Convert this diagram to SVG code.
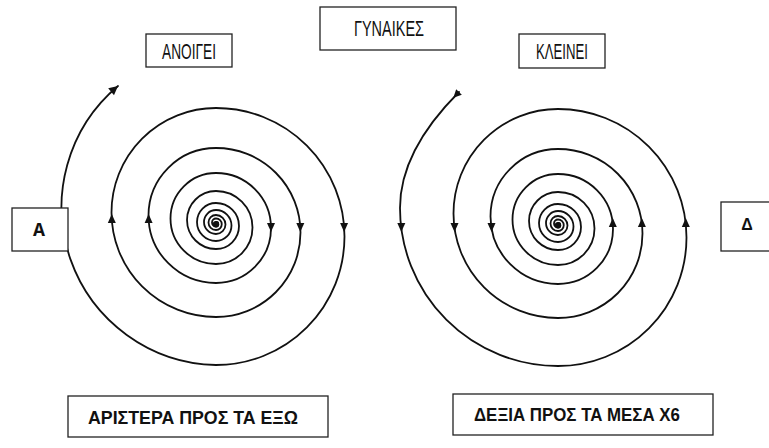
<svg xmlns="http://www.w3.org/2000/svg" xmlns:xlink="http://www.w3.org/1999/xlink" width="769" height="448" viewBox="0 0 769 448">
<style>
.sp{fill:none;stroke:#111;stroke-width:1.8;stroke-linecap:round}
.ah{fill:#111}
.box{fill:#fff;stroke:#222;stroke-width:1.3}
.t{font-family:"Liberation Sans","Noto Sans",Arial,sans-serif;fill:#111}
.tb{font-family:"Liberation Sans","Noto Sans",Arial,sans-serif;font-weight:bold;fill:#111}
</style>
<defs>
<path id="spiral" d="M216,222 A2.25,2.25 0 0 1 216,226.5 A4,4 0 0 1 216,218.5 A5.75,5.75 0 0 1 216,230 A7.5,7.5 0 0 1 216,215 A9.5,9.5 0 0 1 216,234 A12,12 0 0 1 216,210 A15.5,15.5 0 0 1 216,241 A19,19 0 0 1 216,203 A23,23 0 0 1 216,249 A29,29 0 0 1 216,191 A36.5,36.5 0 0 1 216,264 A45.5,45.5 0 0 1 216,173 A55,55 0 0 1 216,283 A67.5,67.5 0 0 1 216,148 A84.5,84.5 0 0 1 216,317 A104.5,104.5 0 0 1 216,108 A128.5,128.5 0 0 1 216,365"/>
<path id="tri" d="M0,0 L-9,-4 L-9,4 Z"/>
<marker id="endArrow" markerUnits="userSpaceOnUse" markerWidth="12" markerHeight="12" refX="9" refY="0" viewBox="-1 -6 12 12" orient="auto">
<path d="M0,-4.5 L9,0 L0,4.5 Z" fill="#111"/>
</marker>
<marker id="tailArrow" markerUnits="userSpaceOnUse" markerWidth="12" markerHeight="12" refX="0" refY="0" viewBox="-10 -6 12 12" orient="auto">
<path d="M0,-4 L0,4 L-8,0 Z" fill="#111"/>
</marker>
</defs>

<g id="connectors">
<g id="spiral-left">
<use xlink:href="#spiral" href="#spiral" class="sp"/>
<path class="sp" d="M216,365 A158,158 0 0 1 118,86" marker-end="url(#endArrow)"/>
<circle cx="216" cy="224.2" r="3.2" fill="#111"/>
<use xlink:href="#tri" href="#tri" class="ah" transform="translate(111.8,214) rotate(-90)"/>
<use xlink:href="#tri" href="#tri" class="ah" transform="translate(148.6,214) rotate(-90)"/>
<use xlink:href="#tri" href="#tri" class="ah" transform="translate(271,232) rotate(90)"/>
<use xlink:href="#tri" href="#tri" class="ah" transform="translate(300.3,232) rotate(90)"/>
<use xlink:href="#tri" href="#tri" class="ah" transform="translate(344.1,232) rotate(90)"/>
</g>
<g id="spiral-right" transform="translate(342,1)">
<use xlink:href="#spiral" href="#spiral" class="sp"/>
<path class="sp" d="M216,365 A158,158 0 0 1 58,207 C58,155 95,113 117,91" marker-end="url(#tailArrow)"/>
<circle cx="216" cy="224.2" r="3.2" fill="#111"/>
<use xlink:href="#tri" href="#tri" class="ah" transform="translate(59.3,231) rotate(90)"/>
<use xlink:href="#tri" href="#tri" class="ah" transform="translate(112.5,231) rotate(90)"/>
<use xlink:href="#tri" href="#tri" class="ah" transform="translate(149.5,231) rotate(90)"/>
<use xlink:href="#tri" href="#tri" class="ah" transform="translate(270.8,217) rotate(-90)"/>
<use xlink:href="#tri" href="#tri" class="ah" transform="translate(299.9,217) rotate(-90)"/>
<use xlink:href="#tri" href="#tri" class="ah" transform="translate(343.8,217) rotate(-90)"/>
</g>
</g>

<g id="node-anoigei">
<rect class="box" x="146" y="34" width="86" height="33"/>
<text class="t" x="189" y="59" font-size="22" text-anchor="middle" textLength="54" lengthAdjust="spacingAndGlyphs">ΑΝΟΙΓΕΙ</text>
</g>
<g id="node-gynaikes">
<rect class="box" x="320" y="7" width="136" height="43"/>
<text class="t" x="389" y="36" font-size="22" text-anchor="middle" textLength="70" lengthAdjust="spacingAndGlyphs">ΓΥΝΑΙΚΕΣ</text>
</g>
<g id="node-kleinei">
<rect class="box" x="519" y="34" width="86" height="34"/>
<text class="t" x="562" y="59" font-size="22" text-anchor="middle" textLength="52" lengthAdjust="spacingAndGlyphs">ΚΛΕΙΝΕΙ</text>
</g>
<g id="node-A">
<rect class="box" x="12" y="208" width="56" height="43"/>
<text x="39" y="236" font-family="'Liberation Mono','DejaVu Sans Mono',monospace" font-weight="bold" font-size="20" text-anchor="middle" fill="#111">Α</text>
</g>
<g id="node-D">
<rect class="box" x="721" y="202" width="60" height="49"/>
<text class="tb" x="747" y="230" font-size="16" text-anchor="middle">Δ</text>
</g>
<g id="node-aristera">
<rect class="box" x="68" y="396" width="260" height="41"/>
<text class="tb" x="88" y="424" font-size="19" textLength="210" lengthAdjust="spacingAndGlyphs">ΑΡΙΣΤΕΡΑ ΠΡΟΣ ΤΑ ΕΞΩ</text>
</g>
<g id="node-dexia">
<rect class="box" x="453" y="394" width="260" height="41"/>
<text class="tb" x="474" y="421" font-size="19" textLength="206" lengthAdjust="spacingAndGlyphs">ΔΕΞΙΑ ΠΡΟΣ ΤΑ ΜΕΣΑ Χ6</text>
</g>
</svg>
